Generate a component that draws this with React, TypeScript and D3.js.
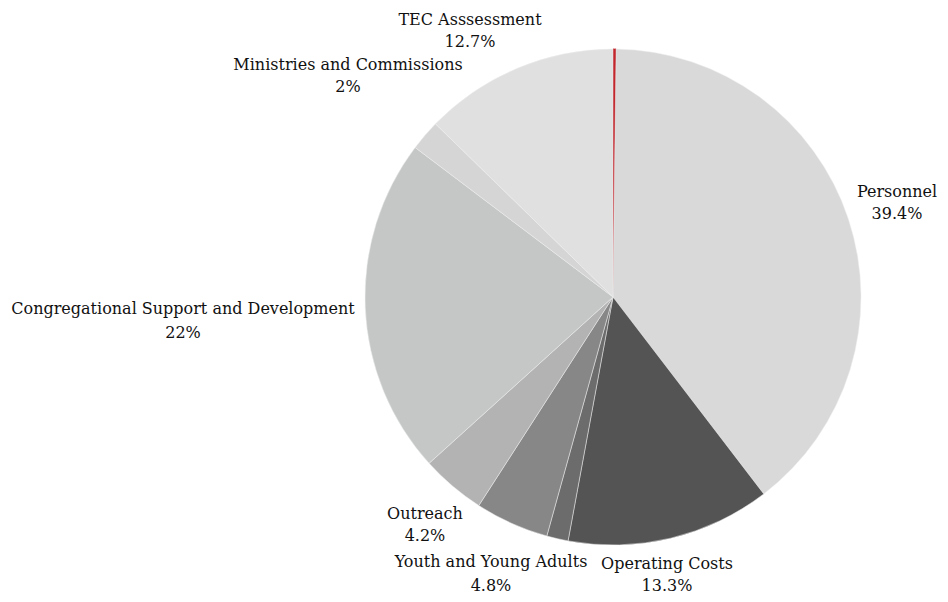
import React, { useEffect, useRef } from "react";
import * as d3 from "d3";

const categories = [
  "Red",
  "Personnel",
  "Operating Costs",
  "Other",
  "Youth and Young Adults",
  "Outreach",
  "Congregational Support and Development",
  "Ministries and Commissions",
  "TEC Asssessment",
];
const values = [0.2, 39.4, 13.3, 1.4, 4.8, 4.2, 22, 2, 12.7];
const valueLabels = ["", "39.4%", "13.3%", "", "4.8%", "4.2%", "22%", "2%", "12.7%"];
const showLabel = [false, true, true, false, true, true, true, true, true];
const colors = ["#c1272d", "#d9d9d9", "#545454", "#6c6c6c", "#878787", "#b3b3b3", "#c4c7c6", "#d5d5d5", "#e0e0e0"];
// label first-line baseline positions relative to pie centre
const labelDx = [0, 284, 54, 0, -122, -188, -430, -265, -143];
const labelDy = [0, -100, 272, 0, 270, 222, 17, -227, -272];
const lineGap = [22, 22, 22, 22, 24, 22, 24, 22, 22];

const W = 948;
const H = 602;
const CX = 613;
const CY = 297;
const R = 248;

export default function App() {
  const ref = useRef<SVGSVGElement>(null);
  useEffect(() => {
    const svg = d3.select(ref.current);
    svg.selectAll("*").remove();
    const data = categories.map((c, i) => ({ c, v: values[i], i }));
    const pie = d3.pie<any>().sort(null).value((d) => d.v).startAngle(0).endAngle(2 * Math.PI);
    const arc = d3.arc<any>().innerRadius(0).outerRadius(R);
    const g = svg.append("g").attr("transform", `translate(${CX},${CY})`);
    g.selectAll("path")
      .data(pie(data))
      .enter()
      .append("path")
      .attr("d", arc)
      .attr("fill", (d: any) => colors[d.data.i])
      .attr("stroke", (d: any) => (d.data.i === 0 ? colors[0] : "#eeeeee"))
      .attr("stroke-width", (d: any) => (d.data.i === 0 ? 0.8 : 0.5));
    const lg = g.selectAll("g.lbl")
      .data(data.filter((d) => showLabel[d.i]))
      .enter()
      .append("text")
      .attr("text-anchor", "middle")
      .attr("font-family", "'DejaVu Serif', serif")
      .attr("font-size", 16)
      .attr("fill", "#111111");
    lg.append("tspan")
      .attr("x", (d: any) => labelDx[d.i])
      .attr("y", (d: any) => labelDy[d.i])
      .text((d: any) => d.c);
    lg.append("tspan")
      .attr("x", (d: any) => labelDx[d.i])
      .attr("y", (d: any) => labelDy[d.i] + lineGap[d.i])
      .text((d: any) => valueLabels[d.i]);
  }, []);
  return (
    <svg
      ref={ref}
      width={W}
      height={H}
      style={{ position: "absolute", left: 0, top: 0, background: "#fff", display: "block" }}
    />
  );
}
